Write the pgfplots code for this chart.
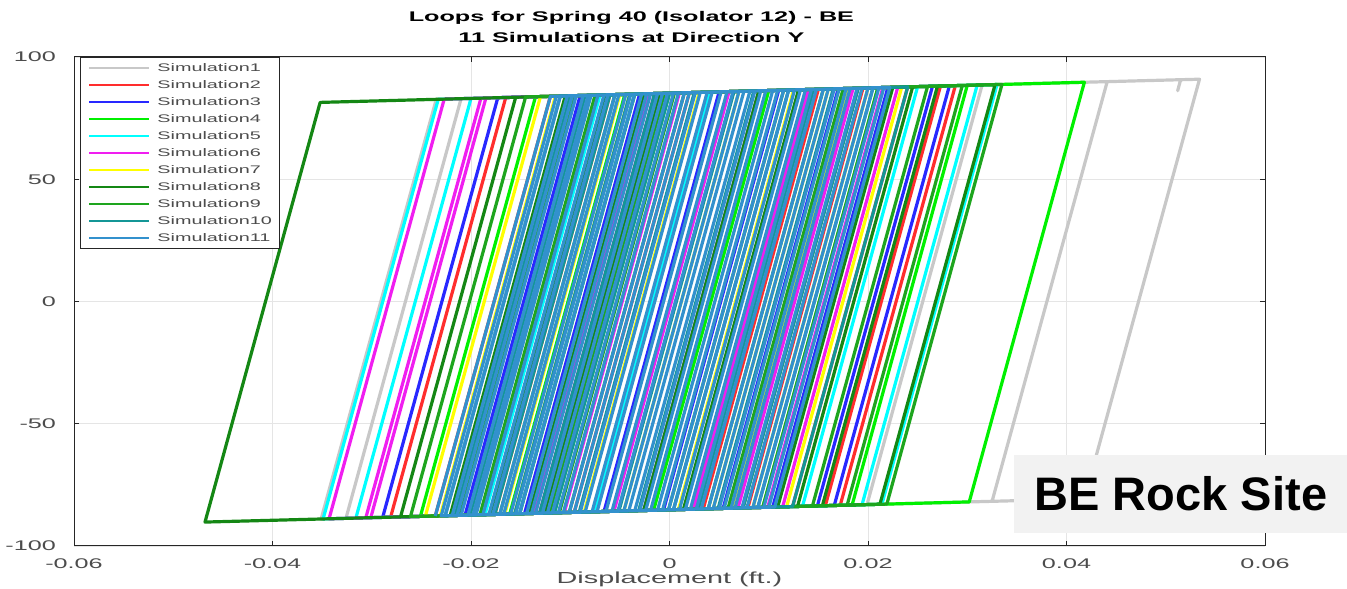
\documentclass[border=0pt]{standalone}
\usepackage{fontspec}
\setmainfont{Liberation Sans}[FakeStretch=1.8]
\newfontfamily\berock{Liberation Sans}
\usepackage{pgfplots}
\pgfplotsset{compat=1.18}

\definecolor{c1}{RGB}{200,200,200}
\definecolor{c2}{RGB}{255,45,45}
\definecolor{c3}{RGB}{40,40,255}
\definecolor{c4}{RGB}{0,240,0}
\definecolor{c5}{RGB}{0,255,255}
\definecolor{c6}{RGB}{240,30,240}
\definecolor{c7}{RGB}{255,255,0}
\definecolor{c8}{RGB}{20,135,20}
\definecolor{c9}{RGB}{30,165,30}
\definecolor{c10}{RGB}{20,150,150}
\definecolor{c11}{RGB}{50,145,205}

\begin{document}
\begin{tikzpicture}
\useasboundingbox (-37pt,-21pt) rectangle (636.5pt,273pt);
\begin{axis}[
    at={(0,0)}, anchor=south west,
    scale only axis, width=595.5pt, height=244.5pt,
    xmin=-0.06, xmax=0.06, ymin=-100, ymax=100,
    xtick={-0.06,-0.04,-0.02,0,0.02,0.04,0.06},
    ytick={-100,-50,0,50,100},
    scaled x ticks=false,
    /pgf/number format/assume math mode=true,
    xticklabel style={/pgf/number format/fixed, /pgf/number format/precision=2, yshift=-2.6pt},
    yticklabel style={xshift=-5.5pt},
    ticklabel style={font=\fontsize{7}{8}\selectfont, text=black!70},
    tick align=inside, major tick length=2.5pt,
    tick style={black!85, line width=0.5pt},
    axis line style={black!85, line width=0.5pt},
    grid=major, grid style={black!10, line width=0.4pt},
    title={Loops for Spring 40 (Isolator 12) - BE\\[1pt]11 Simulations at Direction Y},
    title style={at={(rel axis cs:0.468,1)}, anchor=south, align=center,
        font=\bfseries\fontsize{7}{9.5}\selectfont, inner sep=0pt, yshift=0.8pt},
    xlabel={Displacement (ft.)},
    xlabel style={at={(rel axis cs:0.5,0)}, anchor=base, yshift=-18.6pt,
        font=\fontsize{8}{9}\selectfont, text=black!70},
    legend style={at={(rel axis cs:0.005,1)}, anchor=north west,
        draw=black!85, line width=0.5pt, fill=white,
        font=\fontsize{5.5}{6}\selectfont, text=black!70,
        inner xsep=4pt, inner ysep=2pt, row sep=2pt, column sep=3.5pt,
        nodes={inner sep=0pt, text height=5pt, text depth=1.5pt}},
    legend cell align=left,
    legend image code/.code={\draw[#1, line width=1pt] (0pt,0pt) -- (30pt,0pt);},
    every axis plot/.append style={line width=1.6pt, line join=round},
]

% Simulation 1
\addplot[c1] coordinates {(-0.0146,-86.76) (-0.0030,84.88) (0.0441,89.92) (0.0325,-81.72) (-0.0326,-88.69) (-0.0210,82.95) (0.0515,90.71) (0.0512,86.2) (0.0515,90.71) (0.0534,90.91) (0.0418,-80.73) (-0.0351,-88.96) (-0.0235,82.69) (0.0315,88.57) (0.0199,-83.07) (-0.0156,-86.87) (-0.0040,84.77) (0.0120,86.48) (0.0004,-85.16)};
\addlegendentry{Simulation1}

% Simulation 2
\addplot[c2] coordinates {(-0.0136,-86.65) (-0.0020,84.99) (0.0288,88.28) (0.0172,-83.36) (-0.0281,-88.21) (-0.0165,83.43) (0.0273,88.12) (0.0157,-83.52) (-0.0236,-87.72) (-0.0120,83.92) (0.0195,87.29) (0.0079,-84.35) (-0.0176,-87.08) (-0.0060,84.56) (0.0240,87.77) (0.0124,-83.87) (-0.0096,-86.23) (0.0020,85.41) (0.0150,86.81) (0.0034,-84.84)};
\addlegendentry{Simulation2}

% Simulation 3
\addplot[c3] coordinates {(-0.0126,-86.55) (-0.0010,85.09) (0.0282,88.22) (0.0166,-83.42) (-0.0289,-88.29) (-0.0173,83.35) (0.0220,87.55) (0.0104,-84.09) (-0.0206,-87.40) (-0.0090,84.24) (0.0265,88.04) (0.0149,-83.60) (-0.0146,-86.76) (-0.0030,84.88) (0.0170,87.02) (0.0054,-84.62) (-0.0066,-85.91) (0.0050,85.74) (0.0110,86.38) (-0.0006,-85.26)};
\addlegendentry{Simulation3}

% Simulation 4
\addplot[c4] coordinates {(-0.0136,-86.65) (-0.0020,84.99) (0.0418,89.67) (0.0302,-81.97) (-0.0251,-87.89) (-0.0135,83.76) (0.0300,88.41) (0.0184,-83.23) (-0.0196,-87.30) (-0.0080,84.34) (0.0210,87.45) (0.0094,-84.19) (-0.0116,-86.44) (0.0000,85.20) (0.0100,86.27) (-0.0016,-85.37) (-0.0161,-86.92) (-0.0045,84.72) (0.0140,86.70) (0.0024,-84.94)};
\addlegendentry{Simulation4}

% Simulation 5
\addplot[c5] coordinates {(-0.0151,-86.82) (-0.0035,84.83) (0.0330,88.73) (0.0214,-82.91) (-0.0349,-88.93) (-0.0233,82.71) (0.0310,88.52) (0.0194,-83.12) (-0.0316,-88.58) (-0.0200,83.06) (0.0250,87.88) (0.0134,-83.77) (-0.0186,-87.19) (-0.0070,84.45) (0.0180,87.13) (0.0064,-84.51) (-0.0076,-86.01) (0.0040,85.63) (0.0090,86.16) (-0.0026,-85.48)};
\addlegendentry{Simulation5}

% Simulation 6
\addplot[c6] coordinates {(-0.0131,-86.60) (-0.0015,85.04) (0.0215,87.50) (0.0099,-84.14) (-0.0343,-88.87) (-0.0227,82.77) (0.0140,86.70) (0.0024,-84.94) (-0.0306,-88.47) (-0.0190,83.17) (0.0230,87.66) (0.0114,-83.98) (-0.0301,-88.42) (-0.0185,83.22) (0.0090,86.16) (-0.0026,-85.48) (-0.0136,-86.65) (-0.0020,84.99) (0.0185,87.18) (0.0069,-84.46) (-0.0106,-86.33) (0.0010,85.31) (0.0060,85.84) (-0.0056,-85.80)};
\addlegendentry{Simulation6}

% Simulation 7
\addplot[c7] coordinates {(-0.0156,-86.87) (-0.0040,84.77) (0.0234,87.70) (0.0118,-83.94) (-0.0246,-87.83) (-0.0130,83.81) (0.0180,87.13) (0.0064,-84.51) (-0.0231,-87.67) (-0.0115,83.97) (0.0125,86.54) (0.0009,-85.10) (-0.0166,-86.98) (-0.0050,84.67) (0.0200,87.34) (0.0084,-84.30) (-0.0126,-86.55) (-0.0010,85.09) (0.0070,85.95) (-0.0046,-85.69) (-0.0086,-86.12) (0.0030,85.52) (0.0160,86.91) (0.0044,-84.73)};
\addlegendentry{Simulation7}

% Simulation 8
\addplot[c8] coordinates {(-0.0126,-86.55) (-0.0010,85.09) (0.0328,88.71) (0.0212,-82.93) (-0.0468,-90.21) (-0.0352,81.43) (0.0270,88.09) (0.0154,-83.55) (-0.0271,-88.10) (-0.0155,83.54) (0.0225,87.61) (0.0109,-84.03) (-0.0221,-87.56) (-0.0105,84.08) (0.0190,87.23) (0.0074,-84.41) (-0.0181,-87.14) (-0.0065,84.50) (0.0130,86.59) (0.0014,-85.05) (-0.0141,-86.71) (-0.0025,84.93) (0.0090,86.16) (-0.0026,-85.48) (-0.0101,-86.28) (0.0015,85.36) (0.0245,87.82) (0.0129,-83.82)};
\addlegendentry{Simulation8}

% Simulation 9
\addplot[c9] coordinates {(-0.0121,-86.49) (-0.0005,85.15) (0.0335,88.79) (0.0219,-82.86) (-0.0261,-87.99) (-0.0145,83.65) (0.0260,87.98) (0.0144,-83.66) (-0.0211,-87.46) (-0.0095,84.18) (0.0295,88.36) (0.0179,-83.28) (-0.0191,-87.24) (-0.0075,84.40) (0.0175,87.07) (0.0059,-84.57) (-0.0151,-86.82) (-0.0035,84.83) (0.0210,87.45) (0.0094,-84.19) (-0.0111,-86.39) (0.0005,85.25) (0.0115,86.43) (-0.0001,-85.21) (-0.0171,-87.03) (-0.0055,84.61) (0.0155,86.86) (0.0039,-84.78)};
\addlegendentry{Simulation9}

% Simulation 10
\addplot[c10] coordinates {(-0.0176,-87.08) (-0.0060,84.56) (0.0240,87.77) (0.0124,-83.87) (-0.0226,-87.62) (-0.0110,84.02) (0.0190,87.23) (0.0074,-84.41) (-0.0201,-87.35) (-0.0085,84.29) (0.0165,86.97) (0.0049,-84.67) (-0.0156,-86.87) (-0.0040,84.77) (0.0120,86.48) (0.0004,-85.16) (-0.0131,-86.60) (-0.0015,85.04) (0.0085,86.11) (-0.0031,-85.53) (-0.0091,-86.17) (0.0025,85.47) (0.0205,87.39) (0.0089,-84.25) (-0.0216,-87.51) (-0.0100,84.13) (0.0145,86.75) (0.0029,-84.89) (-0.0116,-86.44) (0.0000,85.20) (0.0065,85.90) (-0.0051,-85.74)};
\addlegendentry{Simulation10}

% Simulation 11
\addplot[c11] coordinates {
(-0.0236,-87.72) (-0.0120,83.92) (0.0222,87.58) (0.0106,-84.07)
(-0.0230,-87.66) (-0.0114,83.98) (0.0216,87.51) (0.0100,-84.13)
(-0.0226,-87.62) (-0.0110,84.02) (0.0211,87.46) (0.0095,-84.18)
(-0.0219,-87.54) (-0.0103,84.10) (0.0205,87.39) (0.0089,-84.25)
(-0.0214,-87.49) (-0.0098,84.15) (0.0200,87.34) (0.0084,-84.30)
(-0.0210,-87.45) (-0.0094,84.19) (0.0194,87.28) (0.0078,-84.36)
(-0.0203,-87.37) (-0.0087,84.27) (0.0189,87.22) (0.0073,-84.42)
(-0.0198,-87.32) (-0.0082,84.32) (0.0182,87.15) (0.0066,-84.49)
(-0.0195,-87.29) (-0.0079,84.35) (0.0178,87.11) (0.0062,-84.54)
(-0.0188,-87.21) (-0.0072,84.43) (0.0171,87.03) (0.0055,-84.61)
(-0.0182,-87.15) (-0.0066,84.49) (0.0166,86.98) (0.0050,-84.66)
(-0.0178,-87.10) (-0.0062,84.54) (0.0160,86.91) (0.0044,-84.73)
(-0.0171,-87.03) (-0.0055,84.61) (0.0155,86.86) (0.0039,-84.78)
(-0.0167,-86.99) (-0.0051,84.65) (0.0148,86.78) (0.0032,-84.86)
(-0.0160,-86.91) (-0.0044,84.73) (0.0143,86.73) (0.0027,-84.91)
(-0.0155,-86.86) (-0.0039,84.78) (0.0137,86.67) (0.0021,-84.97)
(-0.0151,-86.82) (-0.0035,84.83) (0.0132,86.61) (0.0016,-85.03)
(-0.0144,-86.74) (-0.0028,84.90) (0.0126,86.55) (0.0010,-85.09)
(-0.0139,-86.69) (-0.0023,84.95) (0.0120,86.48) (0.0004,-85.16)
(-0.0135,-86.64) (-0.0019,85.00) (0.0115,86.43) (-0.0001,-85.21)
(-0.0128,-86.57) (-0.0012,85.07) (0.0109,86.37) (-0.0007,-85.27)
(-0.0123,-86.52) (-0.0007,85.13) (0.0104,86.31) (-0.0012,-85.33)
(-0.0118,-86.46) (-0.0002,85.18) (0.0097,86.24) (-0.0019,-85.40)
(-0.0112,-86.40) (0.0004,85.24) (0.0092,86.18) (-0.0024,-85.46)
(-0.0107,-86.34) (0.0009,85.30) (0.0086,86.12) (-0.0030,-85.52)
(-0.0101,-86.28) (0.0015,85.36) (0.0081,86.07) (-0.0035,-85.57)
(-0.0096,-86.23) (0.0020,85.41) (0.0075,86.00) (-0.0041,-85.64)
(-0.0090,-86.16) (0.0026,85.48) (0.0070,85.95) (-0.0046,-85.69)
(-0.0085,-86.11) (0.0031,85.53) (0.0064,85.89) (-0.0052,-85.76)
(-0.0078,-86.03) (0.0038,85.61) (0.0058,85.82) (-0.0058,-85.82)
(-0.0073,-85.98) (0.0043,85.66) (0.0052,85.76) (-0.0064,-85.88)};
\addlegendentry{Simulation11}

\end{axis}
\node[fill=black!5, anchor=south west, minimum width=166.5pt, minimum height=39pt,
      inner sep=0pt, font=\berock\bfseries\fontsize{23.5}{26}\selectfont]
      at (470pt,6.5pt) {BE Rock Site};
\end{tikzpicture}
\end{document}
